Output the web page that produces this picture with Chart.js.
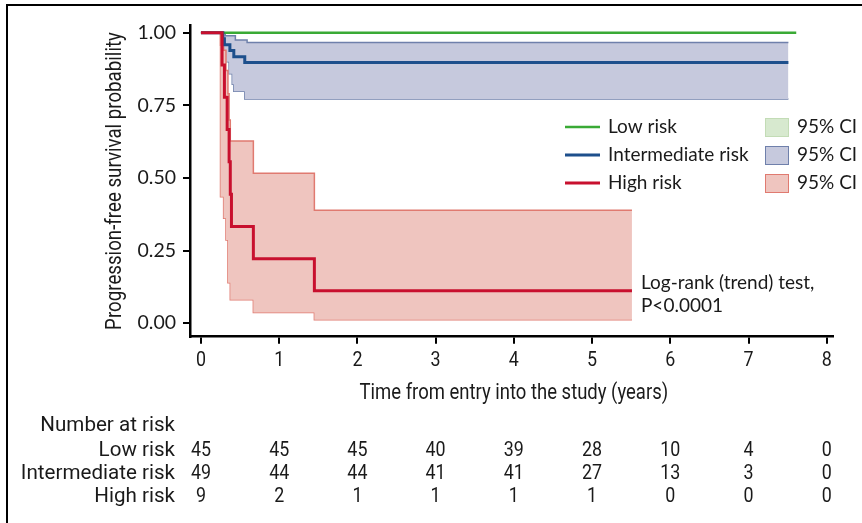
<!DOCTYPE html>
<html><head><meta charset="utf-8">
<script src="https://cdn.jsdelivr.net/npm/chart.js@4"></script>
<style>html,body{margin:0;padding:0;background:#fff}#wrap{width:862px;height:523px;position:relative}</style>
</head><body><div id="wrap"><canvas id="c" width="862" height="523"></canvas></div>
<script>
const xTicks = [0, 1, 2, 3, 4, 5, 6, 7, 8];
const yTicks = [0, 0.25, 0.5, 0.75, 1];
const lowTimes = [0, 7.61];
const lowSurv = [1, 1];
const intTimes = [0, 0.28, 0.30, 0.37, 0.42, 0.56, 7.51];
const intSurv = [1, 0.980, 0.959, 0.939, 0.918, 0.898, 0.898];
const intBandTimes = [0, 0.28, 0.31, 0.36, 0.40, 0.42, 0.44, 0.56, 0.59, 7.51];
const intLower = [1, 0.94, 0.90, 0.859, 0.823, 0.799, 0.799, 0.772, 0.772, 0.772];
const intUpper = [1, 1.0, 0.99, 0.99, 0.99, 0.99, 0.975, 0.975, 0.967, 0.967];
const highTimes = [0, 0.27, 0.30, 0.335, 0.36, 0.375, 0.39, 0.67, 1.45, 5.51];
const highSurv = [1, 0.889, 0.778, 0.667, 0.556, 0.444, 0.333, 0.222, 0.111, 0.111];
const highBandTimes = [0, 0.25, 0.29, 0.32, 0.345, 0.36, 0.375, 0.67, 1.45, 5.51];
const highLower = [1, 0.435, 0.361, 0.286, 0.139, 0.139, 0.080, 0.036, 0.011, 0.011];
const highUpper = [1, 0.957, 0.94, 0.87, 0.79, 0.70, 0.627, 0.516, 0.389, 0.389];
const groupNames = ['Low risk', 'Intermediate risk', 'High risk'];
const ciLabel = '95% CI';
const riskLow = [45, 45, 45, 40, 39, 28, 10, 4, 0];
const riskInt = [49, 44, 44, 41, 41, 27, 13, 3, 0];
const riskHigh = [9, 2, 1, 1, 1, 1, 0, 0, 0];
const xTitle = 'Time from entry into the study (years)';
const yTitle = 'Progression-free survival probability';
const tableTitle = 'Number at risk';
const testText = ['Log-rank (trend) test,', 'P<0.0001'];

const COLORS = {
  low: '#3aaa35', int: '#1d4f8c', high: '#c8102e',
  lowFill: '#d7e9cf', lowEdge: '#c3dcb6',
  intFill: '#c6c9dd', intEdge: '#6f80ab',
  highFill: '#efc5bf', highEdge: '#e07a70'
};
const pts = (t, v) => t.map((x, i) => ({x: x, y: v[i]}));

function line(label, t, v, color, w, order) {
  return {label, data: pts(t, v), borderColor: color, borderWidth: w, stepped: 'before',
    pointRadius: 0, fill: false, order, tension: 0};
}
function bandUpper(label, t, v, fillC, edge, order) {
  return {label, data: pts(t, v), borderColor: edge, borderWidth: 1.5, stepped: 'before',
    pointRadius: 0, fill: '+1', backgroundColor: fillC, order, tension: 0};
}
function bandLower(label, t, v, edge, order) {
  return {label, data: pts(t, v), borderColor: edge, borderWidth: 1.5, stepped: 'before',
    pointRadius: 0, fill: false, order, tension: 0};
}

function cText(c, txt, x, y, size, align, sx, color) {
  c.save();
  c.translate(x, y);
  c.scale(sx, 1);
  c.font = size + 'px Roboto';
  c.textAlign = align;
  c.textBaseline = 'middle';
  c.fillStyle = color || '#1a1a1a';
  c.fillText(txt, 0, 0);
  c.restore();
}
function rText(c, txt, x, y, size, align) {
  c.save();
  c.font = size + 'px Lato';
  c.textAlign = align;
  c.textBaseline = 'middle';
  c.fillStyle = '#1a1a1a';
  c.fillText(txt, x, y);
  c.restore();
}

const decor = {
  id: 'decor',
  beforeDraw(chart) {
    const c = chart.ctx;
    c.save();
    c.fillStyle = '#fff';
    c.fillRect(0, 0, chart.width, chart.height);
    c.strokeStyle = '#000';
    c.lineWidth = 2;
    c.beginPath();
    c.moveTo(7, chart.height);
    c.lineTo(7, 5);
    c.lineTo(chart.width, 5);
    c.stroke();
    c.restore();
  },
  afterDraw(chart) {
    const c = chart.ctx;
    const xs = chart.scales.x, ys = chart.scales.y;
    xTicks.forEach(v => cText(c, String(v), xs.getPixelForValue(v), 361, 21, 'center', 0.85));
    cText(c, xTitle, xs.getPixelForValue(4), 393, 22, 'center', 0.84);
    c.save();
    c.translate(115, 181);
    c.rotate(-Math.PI / 2);
    cText(c, yTitle, 0, 0, 22, 'center', 0.85);
    c.restore();
    cText(c, tableTitle, 175, 426, 21, 'right', 0.98);
    const rows = [riskLow, riskInt, riskHigh];
    const rowY = [451, 474, 497];
    rows.forEach((r, i) => {
      cText(c, groupNames[i], 175, rowY[i], 21, 'right', 0.98);
      r.forEach((n, j) => cText(c, String(n), xs.getPixelForValue(xTicks[j]), rowY[i], 21, 'center', 0.85));
    });
    const tx = xs.getPixelForValue(highTimes[highTimes.length - 1]) + 9;
    rText(c, testText[0], tx, ys.getPixelForValue(0.138), 19, 'left');
    rText(c, testText[1], tx, ys.getPixelForValue(0.058), 19, 'left');
    const legY = [127, 155, 183];
    const lineC = [COLORS.low, COLORS.int, COLORS.high];
    const fillC = [COLORS.lowFill, COLORS.intFill, COLORS.highFill];
    const edgeC = [COLORS.lowEdge, COLORS.intEdge, COLORS.highEdge];
    legY.forEach((y, i) => {
      c.save();
      c.strokeStyle = lineC[i];
      c.lineWidth = i === 0 ? 2.5 : 3;
      c.beginPath(); c.moveTo(565, y); c.lineTo(600, y); c.stroke();
      c.fillStyle = fillC[i];
      c.fillRect(765, y - 9, 24, 19);
      c.strokeStyle = edgeC[i];
      c.lineWidth = 1;
      c.strokeRect(765.5, y - 8.5, 23, 18);
      c.restore();
      rText(c, groupNames[i], 608, y, 19, 'left');
      rText(c, ciLabel, 797, y, 19, 'left');
    });
  }
};

new Chart(document.getElementById('c'), {
  type: 'line',
  data: {
    datasets: [
      line(groupNames[2], highTimes, highSurv, COLORS.high, 3, 0),
      line(groupNames[1], intTimes, intSurv, COLORS.int, 3, 1),
      line(groupNames[0], lowTimes, lowSurv, COLORS.low, 2.5, 2),
      bandUpper('High upper', highBandTimes, highUpper, COLORS.highFill, COLORS.highEdge, 5),
      bandLower('High lower', highBandTimes, highLower, COLORS.highEdge, 6),
      bandUpper('Int upper', intBandTimes, intUpper, COLORS.intFill, COLORS.intEdge, 7),
      bandLower('Int lower', intBandTimes, intLower, COLORS.intEdge, 8)
    ]
  },
  options: {
    responsive: false, animation: false, devicePixelRatio: 1,
    layout: {padding: {left: 0, top: 25, right: 29, bottom: 0}},
    plugins: {legend: {display: false}, tooltip: {enabled: false}},
    scales: {
      x: {
        type: 'linear', min: -0.14, max: 8.08,
        afterBuildTicks: s => { s.ticks = xTicks.map(v => ({value: v})); },
        afterFit: s => { s.height = 186.3; },
        ticks: {display: false},
        grid: {drawOnChartArea: false, drawTicks: true, tickLength: 7, color: '#000', lineWidth: 2},
        border: {display: true, color: '#000', width: 2.5}
      },
      y: {
        type: 'linear', min: -0.047, max: 1.027,
        afterBuildTicks: s => { s.ticks = yTicks.map(v => ({value: v})); },
        afterFit: s => { s.width = 190; },
        ticks: {font: {family: 'Lato', size: 19.5}, color: '#1a1a1a', padding: 7,
          callback: v => Number(v).toFixed(2)},
        grid: {drawOnChartArea: false, drawTicks: true, tickLength: 7, color: '#000', lineWidth: 2},
        border: {display: true, color: '#000', width: 2.5}
      }
    }
  },
  plugins: [decor]
});
</script>
</body></html>
